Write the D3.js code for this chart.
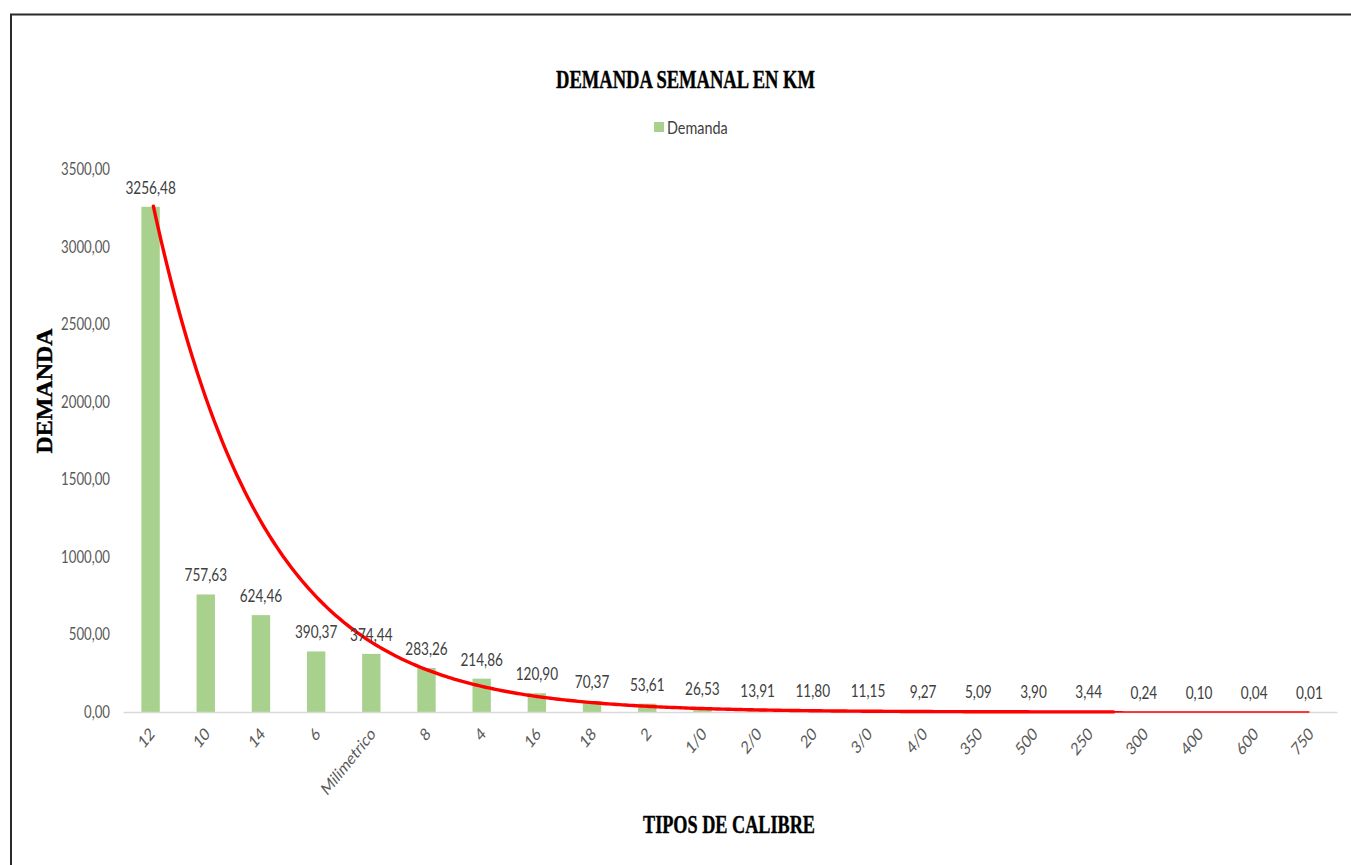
<!DOCTYPE html>
<html>
<head>
<meta charset="utf-8">
<script src="https://cdn.jsdelivr.net/npm/d3@7"></script>
<style>
  html, body { margin: 0; padding: 0; background: #fff; }
  svg { display: block; }
</style>
</head>
<body>
<svg id="chart" width="1351" height="865"></svg>
<script>
const categories = ["12","10","14","6","Milimetrico","8","4","16","18","2","1/0","2/0","20","3/0","4/0","350","500","250","300","400","600","750"];
const demanda = [3256.48,757.63,624.46,390.37,374.44,283.26,214.86,120.90,70.37,53.61,26.53,13.91,11.80,11.15,9.27,5.09,3.90,3.44,0.24,0.10,0.04,0.01];
const yTicks = [0,500,1000,1500,2000,2500,3000,3500];
const chartTitle = "DEMANDA SEMANAL EN KM";
const xTitle = "TIPOS DE CALIBRE";
const yTitle = "DEMANDA";
const seriesName = "Demanda";

const svg = d3.select("#chart");
const W = 1351, H = 865;
const fmt = v => d3.format(".2f")(v).replace(".", ",");
const SANS = "Lato, 'Open Sans', sans-serif";
const SQ = 0.8; // horizontal squeeze of the reference's text

// frame border
svg.append("path")
  .attr("d", `M11,${H} V14.5 H${W}`)
  .attr("fill", "none").attr("stroke", "#2a2a2a").attr("stroke-width", 2);

const x = d3.scaleBand().domain(categories).range([123, 1337]).paddingInner(0).paddingOuter(0);
const y = d3.scaleLinear().domain([0, 3500]).range([712, 169]);
const step = x.step();
const barW = step / 3;

// title
svg.append("text")
  .attr("x", 685.5).attr("y", 88)
  .attr("text-anchor", "middle")
  .attr("font-family", "Liberation Serif, Times New Roman, serif")
  .attr("font-weight", "bold").attr("font-size", 25)
  .attr("textLength", 259).attr("lengthAdjust", "spacingAndGlyphs")
  .attr("stroke", "#000").attr("stroke-width", 0.4)
  .attr("fill", "#000").text(chartTitle);

// legend
svg.append("rect").attr("x", 654).attr("y", 122).attr("width", 10).attr("height", 10).attr("fill", "#a9d18e");
svg.append("text").attr("transform", `translate(667,133.5) scale(${SQ},1)`)
  .attr("font-family", SANS)
  .attr("font-size", 18).attr("fill", "#404040").text(seriesName);

// y axis labels
const yAxis = d3.axisLeft(y).tickValues(yTicks).tickFormat(fmt).tickSize(0).tickPadding(0);
const gy = svg.append("g").attr("transform", "translate(110,0)").call(yAxis);
gy.select(".domain").remove();
gy.selectAll(".tick text")
  .attr("x", null).attr("dy", null)
  .attr("y", 5.5)
  .attr("transform", `scale(${SQ},1)`)
  .attr("font-family", SANS)
  .attr("font-size", 16.5).attr("fill", "#595959");

// y title
svg.append("text")
  .attr("transform", "translate(52,391) rotate(-90)")
  .attr("text-anchor", "middle")
  .attr("font-family", "Liberation Serif, Times New Roman, serif")
  .attr("font-weight", "bold").attr("font-size", 23)
  .attr("textLength", 125).attr("lengthAdjust", "spacingAndGlyphs")
  .attr("stroke", "#000").attr("stroke-width", 0.4)
  .attr("fill", "#000").text(yTitle);

// bars
svg.append("g").selectAll("rect").data(demanda).join("rect")
  .attr("x", (d, i) => x(categories[i]) + step / 2 - barW / 2)
  .attr("width", barW)
  .attr("y", d => y(d))
  .attr("height", d => y(0) - y(d))
  .attr("fill", "#a9d18e");

// x axis line
const xAxis = d3.axisBottom(x).tickSize(0).tickPadding(0).tickFormat("");
const gx = svg.append("g").attr("transform", "translate(0,712)").call(xAxis);
gx.select(".domain").attr("stroke", "#d9d9d9").attr("stroke-width", 1.3);
gx.selectAll(".tick text").remove();

// x tick labels (rotated)
svg.append("g").selectAll("text").data(categories).join("text")
  .attr("transform", d => `translate(${x(d) + step / 2 + 5},735) scale(${SQ},1) rotate(-45)`)
  .attr("text-anchor", "end")
  .attr("font-family", SANS)
  .attr("font-size", 17.5)
  .attr("fill", "#595959")
  .text(d => d);

// exponential trendline (least squares on ln y, as a spreadsheet does)
const xs = demanda.map((d, i) => i + 1);
const ly = demanda.map(d => Math.log(d));
const mx = d3.mean(xs), my = d3.mean(ly);
const b = d3.sum(xs, (v, i) => (v - mx) * (ly[i] - my)) / d3.sum(xs, v => (v - mx) * (v - mx));
const a = Math.exp(my - b * mx);
const px = t => x(categories[0]) + step * (t - 0.5);
const line = d3.line().x(p => px(p[0])).y(p => y(p[1])).curve(d3.curveLinear);
const pts = (t0, t1) => d3.range(t0, t1 + 1e-9, 0.05).map(t => [t, a * Math.exp(b * t)]);
svg.append("path").attr("d", line(pts(18.4, 22)))
  .attr("fill", "none").attr("stroke", "#ff0000").attr("stroke-width", 1.6);
svg.append("path").attr("d", line(pts(1.05, 18.45)))
  .attr("fill", "none").attr("stroke", "#ff0000").attr("stroke-width", 3.4).attr("stroke-linecap", "round");

// value labels
svg.append("g").selectAll("text").data(demanda).join("text")
  .attr("transform", (d, i) => `translate(${x(categories[i]) + step / 2},${y(d) - 13}) scale(${SQ},1)`)
  .attr("text-anchor", "middle")
  .attr("font-family", SANS)
  .attr("font-size", 17)
  .attr("fill", "#404040")
  .text(d => fmt(d));

// x title
svg.append("text")
  .attr("x", 729).attr("y", 833)
  .attr("text-anchor", "middle")
  .attr("font-family", "Liberation Serif, Times New Roman, serif")
  .attr("font-weight", "bold").attr("font-size", 25)
  .attr("textLength", 172).attr("lengthAdjust", "spacingAndGlyphs")
  .attr("stroke", "#000").attr("stroke-width", 0.4)
  .attr("fill", "#000").text(xTitle);
</script>
</body>
</html>
